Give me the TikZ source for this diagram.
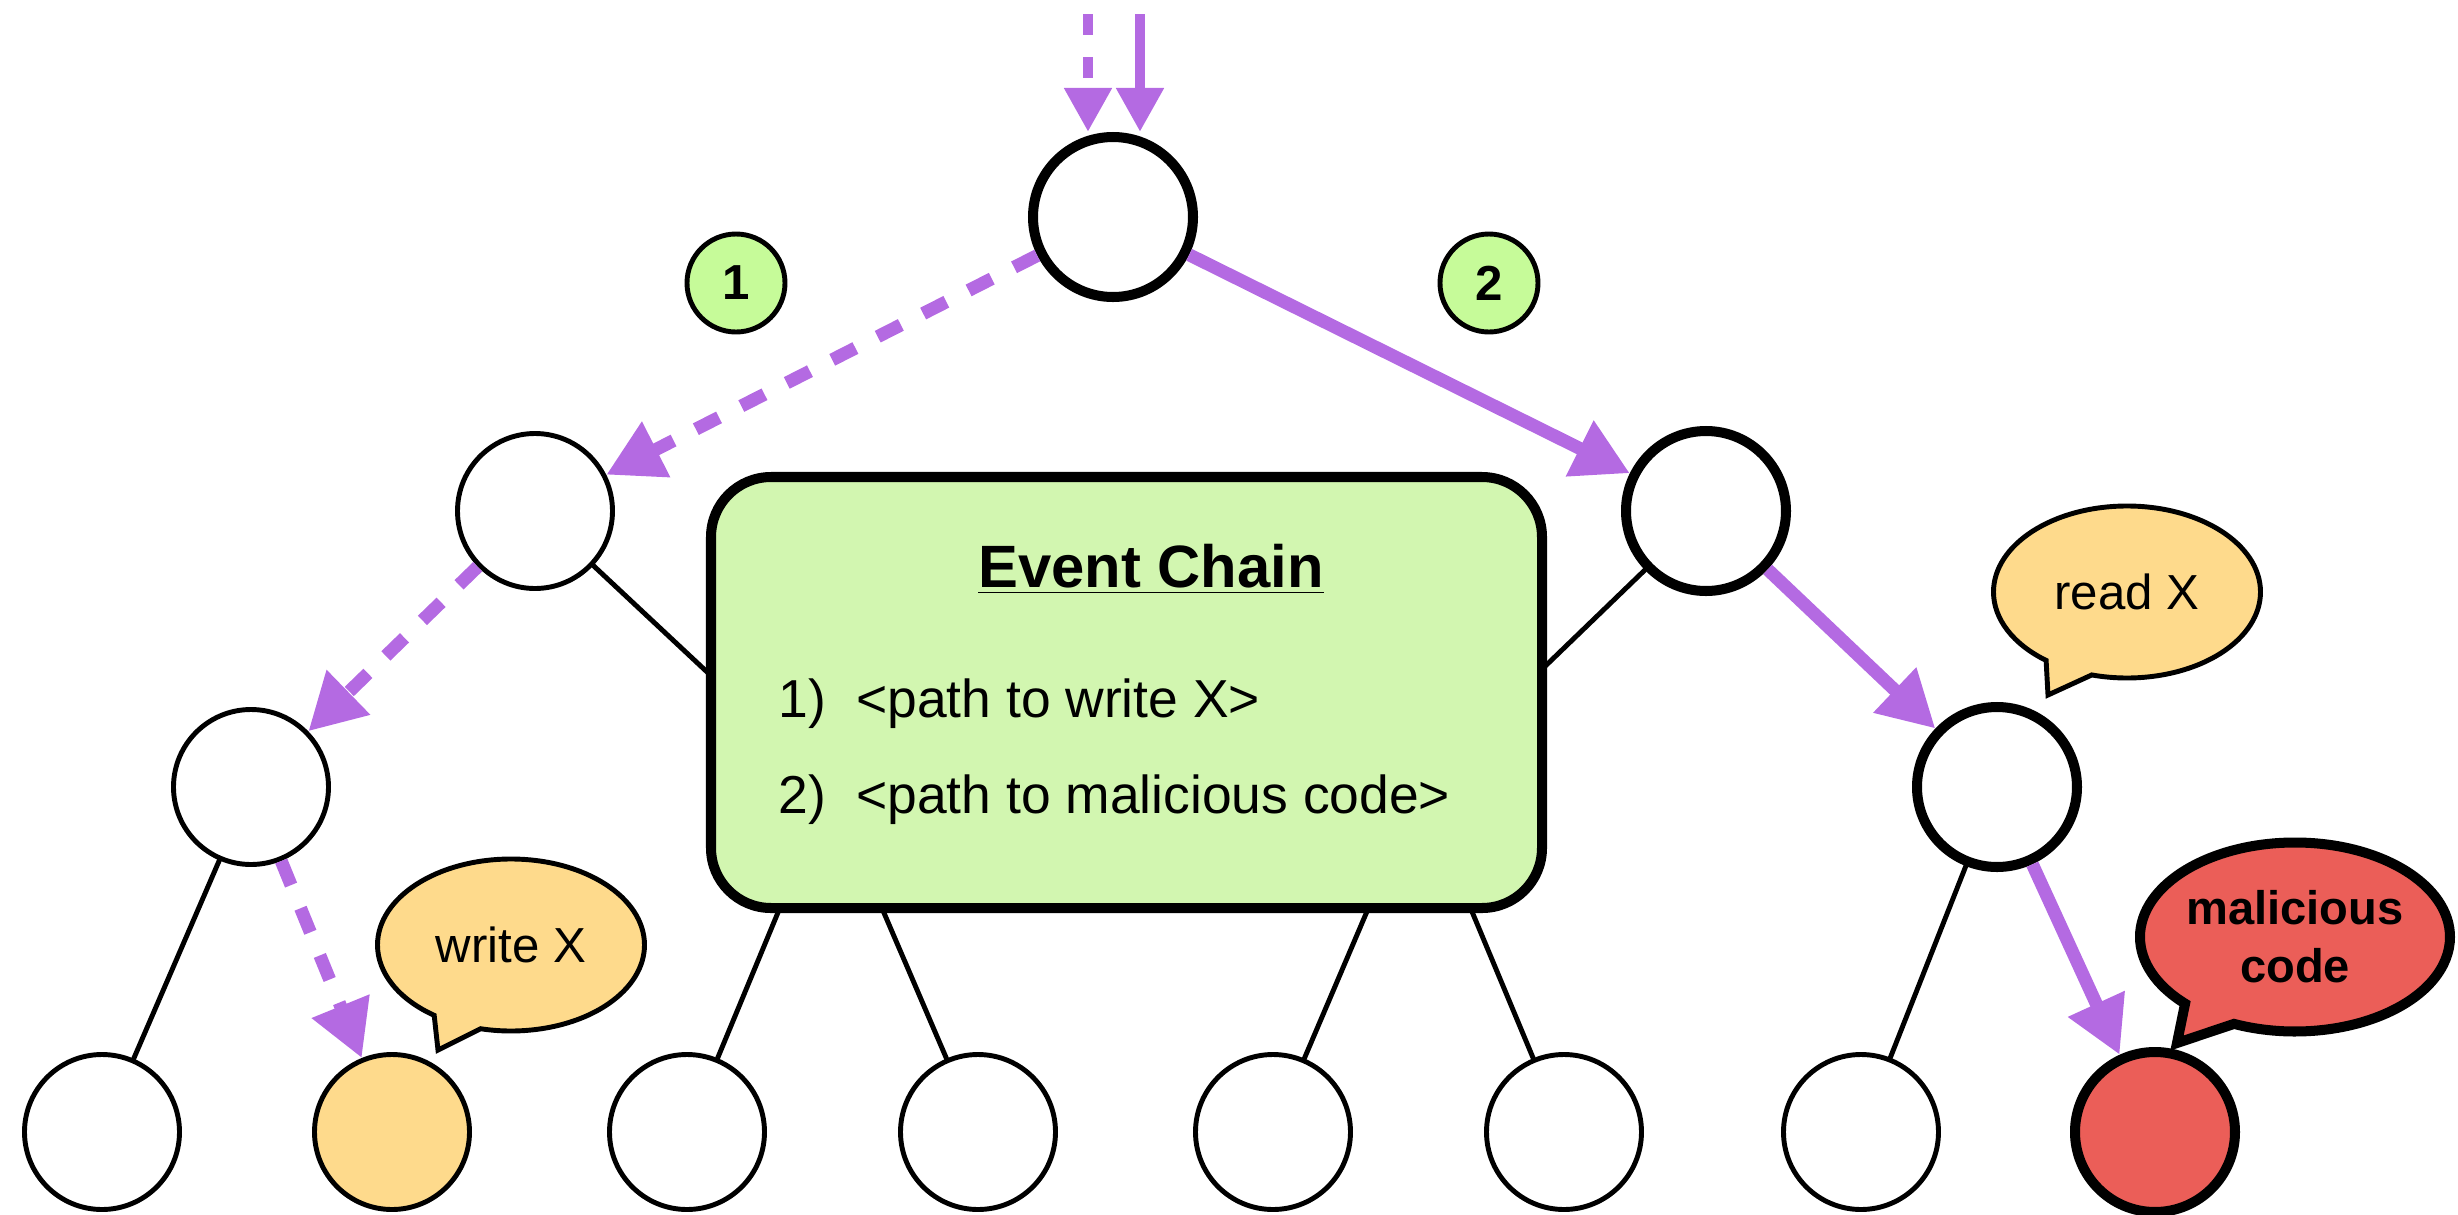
\documentclass[tikz,border=0pt]{standalone}
\usepackage{fontspec}
\setmainfont{Liberation Sans}
\usetikzlibrary{arrows.meta,shapes.geometric,shapes.callouts}
\definecolor{pathpurple}{RGB}{180,106,226}
\definecolor{chaingreen}{RGB}{210,246,176}
\definecolor{stepgreen}{RGB}{198,251,153}
\definecolor{notepeach}{RGB}{254,218,140}
\definecolor{badred}{RGB}{235,94,88}

\begin{document}
\begin{tikzpicture}[line cap=round,
  vertex/.style={circle,draw,fill=white,line width=1.4pt,minimum size=1.55cm,inner sep=0pt},
  hot/.style={line width=2.85pt,minimum size=1.6cm},
  edge/.style={line width=1.4pt},
  hop/.style={draw=pathpurple,line width=3.7pt,line cap=butt,-{Triangle[length=5.6mm,width=5.9mm]}},
  hopdash/.style={hop,dash pattern=on 2.6mm off 2.5mm},
  hopin/.style={hop,line width=3.1pt,-{Triangle[length=4.4mm,width=4.5mm]}},
  bubble/.style={ellipse callout,draw,line width=1.4pt,fill=notepeach,callout pointer arc=22,inner sep=0pt,minimum width=2.67cm,minimum height=1.72cm,font=\fontsize{14}{16}\selectfont},
  stepmark/.style={circle,draw,line width=1.4pt,fill=stepgreen,minimum size=0.98cm,inner sep=0pt,font=\bfseries\fontsize{14}{16}\selectfont}]
\useasboundingbox (0,0) rectangle (24.58,-12.15);
% tree
\node[vertex,hot] (root) at (11.13,-2.17) {};
\node[vertex] (upL) at (5.35,-5.11) {};
\node[vertex,hot] (upR) at (17.06,-5.11) {};
\node[vertex] (midLL) at (2.51,-7.87) {};
\node[vertex] (midLR) at (8.30,-7.87) {};
\node[vertex] (midRL) at (14.20,-7.87) {};
\node[vertex,hot] (midRR) at (19.97,-7.87) {};
\node[vertex] (leafA) at (1.02,-11.32) {};
\node[vertex,fill=notepeach] (leafB) at (3.92,-11.32) {};
\node[vertex] (leafC) at (6.87,-11.32) {};
\node[vertex] (leafD) at (9.78,-11.32) {};
\node[vertex] (leafE) at (12.73,-11.32) {};
\node[vertex] (leafF) at (15.64,-11.32) {};
\node[vertex] (leafG) at (18.61,-11.32) {};
\node[vertex,hot,fill=badred] (leafH) at (21.55,-11.32) {};
\draw[edge] (upL) -- (midLR);
\draw[edge] (upR) -- (midRL);
\draw[edge] (midLL) -- (leafA);
\draw[edge] (midLR) -- (leafC);
\draw[edge] (midLR) -- (leafD);
\draw[edge] (midRL) -- (leafE);
\draw[edge] (midRL) -- (leafF);
\draw[edge] (midRR) -- (leafG);
% the two paths
\coordinate (inA) at (10.88,-0.14);
\coordinate (inB) at (11.40,-0.14);
\draw[hopin,dash pattern=on 2.1mm off 2.2mm] (inA) -- (inA |- root.north);
\draw[hopin] (inB) -- (inB |- root.north);
\draw[hopdash] (root) -- (upL);
\draw[hopdash] (upL) -- (midLL);
\draw[hopdash] (midLL) -- (leafB);
\draw[hop] (root) -- (upR);
\draw[hop] (upR) -- (midRR);
\draw[hop] (midRR) -- (leafH);
\node[stepmark] (markA) at (7.36,-2.83) {1};
\node[stepmark] (markB) at (14.89,-2.83) {2};
% event chain box
\node[draw,line width=2.85pt,fill=chaingreen,rounded corners=0.6cm,minimum width=8.31cm,minimum height=4.31cm] (chain) at (11.265,-6.925) {};
\node[anchor=base,font=\bfseries\fontsize{17}{20}\selectfont] (chaintitle) at (11.51,-5.87) {\underline{Event Chain}};
\node[anchor=base west,font=\fontsize{15.2}{18}\selectfont,inner sep=0pt] (chainone) at (7.78,-7.17) {1)\hspace{0.3cm}<path to write X>};
\node[anchor=base west,font=\fontsize{15.2}{18}\selectfont,inner sep=0pt] (chaintwo) at (7.78,-8.13) {2)\hspace{0.3cm}<path to malicious code>};
% notes
\coordinate (tipW) at (4.38,-10.50);
\coordinate (tipR) at (20.48,-6.95);
\coordinate (tipM) at (21.77,-10.43);
\node[bubble,callout absolute pointer={(tipW)}] (noteW) at (5.11,-9.45) {write X};
\node[bubble,callout absolute pointer={(tipR)}] (noteR) at (21.27,-5.92) {read X};
\node[bubble,fill=badred,line width=2.85pt,minimum width=3.10cm,minimum height=1.89cm,align=center,font=\bfseries\fontsize{13.4}{16.5}\selectfont,callout absolute pointer={(tipM)}] (noteM) at (22.95,-9.37) {malicious\\code};
\end{tikzpicture}
\end{document}
